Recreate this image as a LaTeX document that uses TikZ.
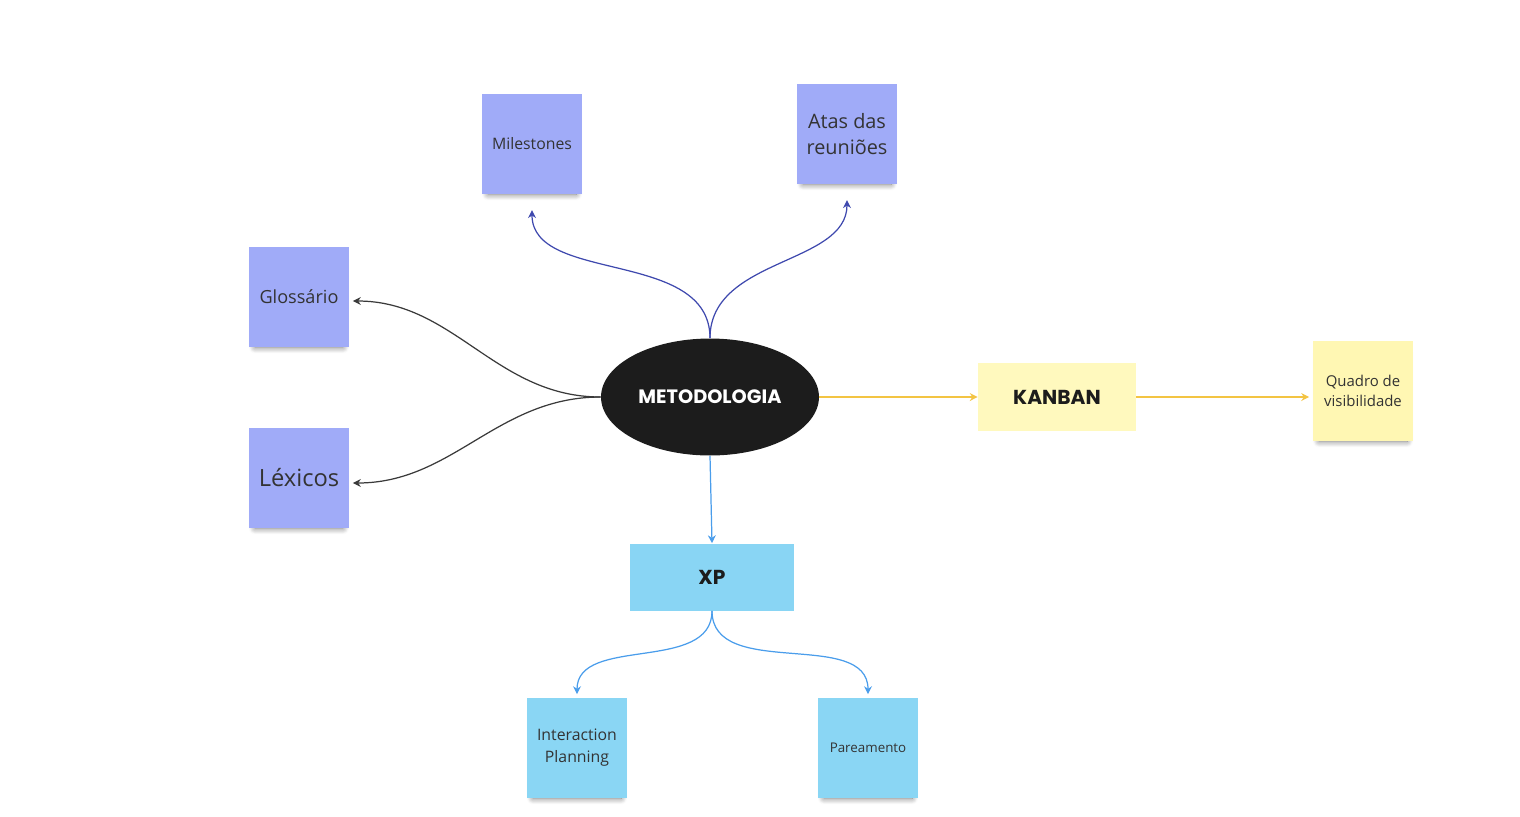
\documentclass[tikz,border=0pt]{standalone}
\usepackage{fontspec}
\setmainfont{Open Sans}
\newfontfamily\titlefont{Poppins}
\usepackage{tikz}
\usetikzlibrary{shapes.geometric, arrows.meta, positioning, shadows.blur}
\definecolor{ink}{HTML}{1C1C1C}
\definecolor{notepurple}{HTML}{A0ABF8}
\definecolor{noteblue}{HTML}{8AD6F4}
\definecolor{noteyellow}{HTML}{FFF7B3}
\definecolor{kanbanfill}{HTML}{FFF9BE}
\definecolor{xpfill}{HTML}{89D5F4}
\definecolor{linepurple}{HTML}{3F49AE}
\definecolor{linegray}{HTML}{3A3A3A}
\definecolor{lineyellow}{HTML}{F3C443}
\definecolor{lineblue}{HTML}{4A9DEB}
\tikzset{
  note/.style={rectangle, minimum width=2cm, minimum height=2cm, inner sep=2pt,
    align=center, text=ink!90,
    blur shadow={shadow xshift=0pt, shadow yshift=-4pt, shadow scale=0.88,
      shadow opacity=55, shadow blur radius=4pt, shadow blur steps=10}},
  note/purple/.style={note, fill=notepurple},
  note/blue/.style={note, fill=noteblue},
  note/yellow/.style={note, fill=noteyellow},
  hub/.style={ellipse, fill=ink, text=white, minimum width=4.36cm, minimum height=2.34cm,
    font=\titlefont\bfseries\fontsize{11}{13}\selectfont, inner sep=0pt},
  topic/.style={rectangle, text=ink, inner sep=0pt,
    font=\titlefont\bfseries\fontsize{11.5}{13}\selectfont},
  ar/.style={-{Stealth[length=4.5pt, width=4.5pt]}, line width=0.7pt},
}
\begin{document}
\begin{tikzpicture}[x=0.02cm, y=-0.02cm]
\useasboundingbox (0,0) rectangle (1520,816);

% central topic
\node[hub] (MET) at (710,397) {METODOLOGIA};

% purple notes
\node[note/purple, font=\fontsize{9}{11}\selectfont] (MIL) at (532,144) {Milestones};
\node[note/purple, font=\fontsize{11.3}{14.5}\selectfont] (ATA) at (847,134) {Atas das\\reuniões};
\node[note/purple, font=\fontsize{10.3}{12}\selectfont] (GLO) at (299,297) {Glossário};
\node[note/purple, font=\fontsize{13.5}{16}\selectfont] (LEX) at (299,478) {Léxicos};

% kanban branch
\node[topic, fill=kanbanfill, minimum width=3.16cm, minimum height=1.36cm] (KAN) at (1057,397) {KANBAN};
\node[note/yellow, font=\fontsize{8.5}{11.5}\selectfont] (QUA) at (1363,391) {Quadro de\\visibilidade};

% xp branch
\node[topic, fill=xpfill, minimum width=3.28cm, minimum height=1.34cm] (XP) at (712,577) {XP};
\node[note/blue, font=\fontsize{9}{12.5}\selectfont] (INT) at (577,748) {Interaction\\Planning};
\node[note/blue, font=\fontsize{7.6}{9}\selectfont] (PAR) at (868,748) {Pareamento};

% connectors
\draw[ar, linepurple, shorten >=9pt] (MET.north) to[out=90, in=-90] (MIL.south);
\draw[ar, linepurple, shorten >=9pt] (MET.north) to[out=90, in=-90] (ATA.south);
\draw[ar, linegray, shorten >=2pt] (MET.west) to[out=180, in=0] ([yshift=-0.08cm]GLO.east);
\draw[ar, linegray, shorten >=2pt] (MET.west) to[out=180, in=0] ([yshift=-0.1cm]LEX.east);
\draw[ar, lineyellow] (MET.east) -- (KAN.west);
\draw[ar, lineyellow, shorten >=2pt] (KAN.east) -- (QUA.west |- KAN.east);
\draw[ar, lineblue] (MET.south) -- (XP.north);
\draw[ar, lineblue, shorten >=2pt] (XP.south) to[out=-90, in=90] (INT.north);
\draw[ar, lineblue, shorten >=2pt] (XP.south) to[out=-90, in=90] (PAR.north);

\end{tikzpicture}
\end{document}
